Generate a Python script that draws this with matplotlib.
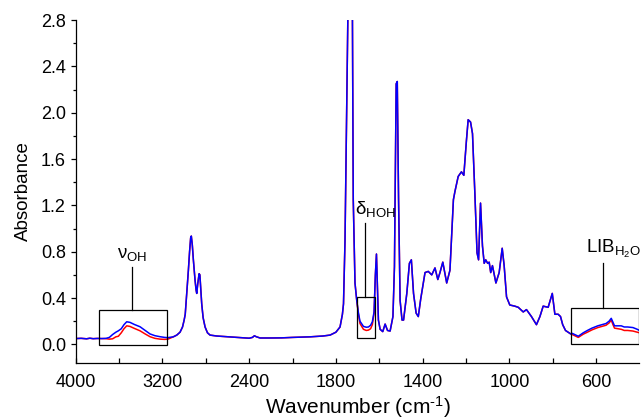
import numpy as np
import matplotlib
matplotlib.use("Agg")
import matplotlib.pyplot as plt
from matplotlib.patches import Rectangle
from matplotlib.ticker import FixedLocator, MultipleLocator, FormatStrFormatter

plt.rcParams['font.family'] = ['Liberation Sans', 'DejaVu Sans']
plt.rcParams['mathtext.fontset'] = 'custom'
plt.rcParams['mathtext.rm'] = 'Liberation Sans'
plt.rcParams['mathtext.it'] = 'Liberation Sans:italic'

# FTIR spectrum (blue trace; red trace is identical outside the boxed windows)
wavenumber = [4000, 3950, 3900, 3870, 3840, 3800, 3760, 3720, 3690, 3660, 3630, 3607,
              3580, 3555, 3530, 3500, 3460, 3407, 3360, 3315, 3270, 3222, 3180, 3150,
              3100, 3068, 3038, 3015, 3000, 2990, 2976, 2961, 2950, 2940, 2934, 2925,
              2915, 2900, 2890, 2884, 2875, 2862, 2855, 2848, 2838, 2825, 2807, 2785,
              2761, 2700, 2607, 2500, 2400, 2370, 2352, 2335, 2300, 2200, 2100, 2000,
              1919, 1860, 1827, 1800, 1781, 1770, 1765, 1758, 1750, 1745, 1738, 1730,
              1724, 1720, 1712, 1704, 1696, 1689, 1673, 1660, 1650, 1640, 1632, 1624,
              1618, 1613, 1608, 1604, 1596, 1584, 1573, 1562, 1550, 1537, 1530, 1522,
              1517, 1511, 1504, 1495, 1488, 1473, 1461, 1452, 1442, 1430, 1420, 1409,
              1389, 1374, 1358, 1343, 1330, 1320, 1307, 1298, 1289, 1274, 1258, 1251,
              1236, 1221, 1210, 1198, 1190, 1179, 1170, 1159, 1149, 1142, 1133, 1124,
              1116, 1109, 1100, 1093, 1086, 1078, 1062, 1047, 1033, 1024, 1013, 998,
              975, 959, 936, 921, 898, 875, 859, 844, 821, 802, 790, 775,
              764, 754, 741, 717, 710, 682, 659, 640, 619, 592, 554, 540,
              530, 522, 515, 484, 470, 454, 430, 410, 400]
absorbance = [0.050, 0.052, 0.048, 0.053, 0.049, 0.051, 0.050, 0.052, 0.060, 0.085, 0.105, 0.117,
              0.135, 0.170, 0.195, 0.190, 0.172, 0.152, 0.120, 0.090, 0.075, 0.066, 0.060, 0.058,
              0.065, 0.080, 0.105, 0.150, 0.210, 0.260, 0.440, 0.640, 0.800, 0.920, 0.935, 0.860,
              0.730, 0.560, 0.470, 0.440, 0.520, 0.610, 0.600, 0.500, 0.350, 0.230, 0.150, 0.100,
              0.080, 0.072, 0.066, 0.060, 0.053, 0.060, 0.074, 0.066, 0.055, 0.055, 0.056, 0.060,
              0.065, 0.072, 0.080, 0.105, 0.150, 0.260, 0.350, 0.900, 2.110, 2.900, 3.400, 3.400,
              2.900, 1.250, 0.530, 0.380, 0.270, 0.200, 0.155, 0.148, 0.150, 0.165, 0.195, 0.280,
              0.600, 0.780, 0.450, 0.210, 0.130, 0.110, 0.175, 0.120, 0.115, 0.240, 0.670, 2.250,
              2.270, 1.250, 0.380, 0.210, 0.210, 0.440, 0.700, 0.730, 0.440, 0.270, 0.240, 0.390,
              0.620, 0.630, 0.600, 0.660, 0.560, 0.620, 0.710, 0.620, 0.530, 0.640, 1.250, 1.320,
              1.450, 1.490, 1.460, 1.760, 1.940, 1.920, 1.820, 1.300, 0.790, 0.730, 1.220, 0.850,
              0.700, 0.730, 0.700, 0.710, 0.620, 0.680, 0.530, 0.620, 0.830, 0.680, 0.410, 0.340,
              0.330, 0.320, 0.280, 0.300, 0.240, 0.170, 0.240, 0.330, 0.320, 0.440, 0.260, 0.260,
              0.240, 0.170, 0.120, 0.090, 0.095, 0.070, 0.100, 0.120, 0.140, 0.160, 0.180, 0.200,
              0.225, 0.190, 0.160, 0.160, 0.150, 0.150, 0.145, 0.130, 0.120]

# red trace inside the three boxed windows
red_oh_wn = [3760, 3720, 3690, 3660, 3630, 3607, 3580, 3555, 3530, 3500, 3460, 3407,
             3360, 3315, 3270, 3222, 3180, 3150]
red_oh = [0.050, 0.049, 0.045, 0.048, 0.065, 0.070, 0.100, 0.135, 0.160, 0.155, 0.138, 0.117,
          0.090, 0.066, 0.052, 0.045, 0.043, 0.045]
red_hoh_wn = [1696, 1689, 1673, 1660, 1650, 1640, 1632, 1624]
red_hoh = [0.260, 0.180, 0.130, 0.120, 0.123, 0.135, 0.170, 0.270]
red_lib_wn = [710, 682, 659, 640, 619, 592, 554, 540, 530, 522, 515, 484, 470, 454, 430, 410, 400]
red_lib = [0.085, 0.060, 0.088, 0.105, 0.125, 0.145, 0.165, 0.185, 0.210, 0.170, 0.140, 0.130,
           0.120, 0.120, 0.115, 0.105, 0.100]

red = dict(zip(wavenumber, absorbance))
red.update(zip(red_oh_wn, red_oh))
red.update(zip(red_hoh_wn, red_hoh))
red.update(zip(red_lib_wn, red_lib))
red_wn = sorted(red, reverse=True)
red_abs = [red[w] for w in red_wn]

major_ticks = [4000, 3200, 2400, 1800, 1400, 1000, 600]
minor_ticks = [3600, 2800, 2000, 1600, 1200, 800]


# x axis is compressed by a factor 2 above 2000 cm-1
def fwd(x):
    x = np.asarray(x, dtype=float)
    return np.where(x > 2000, 2000 + (x - 2000) / 2, x)


def inv(y):
    y = np.asarray(y, dtype=float)
    return np.where(y > 2000, 2000 + (y - 2000) * 2, y)


fig = plt.figure(figsize=(6.42, 4.20), dpi=100)
ax = fig.add_axes([0.118, 0.136, 0.878, 0.816])
ax.set_xscale('function', functions=(fwd, inv))

ax.plot(red_wn, red_abs, color='#ff0000', lw=1.1)
ax.plot(wavenumber, absorbance, color='#0000ff', lw=1.1)

ax.set_xlim(4000, 400)
ax.set_ylim(-0.16, 2.8)

ax.xaxis.set_major_locator(FixedLocator(major_ticks))
ax.xaxis.set_minor_locator(FixedLocator(minor_ticks))
ax.xaxis.set_major_formatter(FormatStrFormatter('%d'))
ax.xaxis.set_minor_formatter(plt.NullFormatter())
ax.yaxis.set_major_locator(MultipleLocator(0.4))
ax.yaxis.set_minor_locator(MultipleLocator(0.2))
ax.yaxis.set_major_formatter(FormatStrFormatter('%.1f'))

ax.spines['top'].set_visible(False)
ax.spines['right'].set_visible(False)
for s in ('left', 'bottom'):
    ax.spines[s].set_linewidth(0.9)
ax.tick_params(axis='x', which='both', direction='in', length=3.5, width=0.9, labelsize=13, pad=8)
ax.tick_params(axis='y', which='major', direction='out', length=3.6, width=0.9, labelsize=13)
ax.tick_params(axis='y', which='minor', direction='out', length=2.2, width=0.9)

ax.set_xlabel('Wavenumber (cm$^{\\mathregular{\u20101}}$)', fontsize=15, labelpad=2)
ax.set_ylabel('Absorbance', fontsize=13.5, labelpad=6)

# boxed regions with labels
boxes = [((3785, 3155), (-0.006, 0.296), 3483, 0.67, 3483, r'$\mathregular{\nu_{OH}}$'),
         ((1704, 1621), (0.052, 0.41), 1666, 1.05, 1620, r'$\mathregular{\delta_{HOH}}$'),
         ((717, 402), (0.0, 0.31), 566, 0.70, 521, r'$\mathregular{LIB_{H_2O}}$')]
for (x0, x1), (y0, y1), xl, yl, xt, txt in boxes:
    ax.add_patch(Rectangle((x1, y0), x0 - x1, y1 - y0, fill=False, ec='black', lw=0.9, zorder=3))
    ax.plot([xl, xl], [y1, yl], color='black', lw=0.9)
    ax.text(xt, yl + 0.03, txt, ha='center', va='bottom', fontsize=13.5)

fig.savefig('out.png', dpi=100)
